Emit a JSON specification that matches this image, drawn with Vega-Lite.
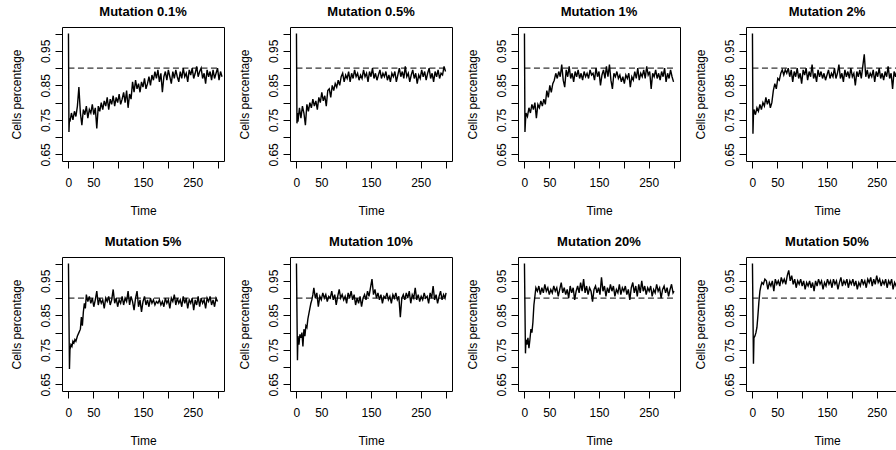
{
"$schema": "https://vega.github.io/schema/vega-lite/v6.json",
"bounds": "flush",
"columns": 4,
"spacing": {"row": 96, "column": 66},
"padding": {"left": 9, "top": 5, "right": 0, "bottom": 0},
"config": {
 "font": "Liberation Sans",
 "view": {"stroke": "black", "strokeWidth": 1},
 "title": {"fontSize": 13, "fontWeight": "bold", "font": "Liberation Sans", "color": "black", "offset": 8, "anchor": "middle"},
 "axis": {"domain": false, "grid": false, "ticks": true, "tickColor": "black", "tickSize": 7, "labelFont": "Liberation Sans", "labelFontSize": 12, "labelColor": "black", "titleFont": "Liberation Sans", "titleFontSize": 12, "titleFontWeight": "normal", "titleColor": "black", "labelOverlap": false, "labelFlush": false},
 "axisX": {"labelPadding": 9, "titlePadding": 17, "labelOverlap": false},
 "axisY": {"labelAngle": -90, "labelAlign": "center", "labelBaseline": "bottom", "labelPadding": 3, "titlePadding": 16}
},
"datasets": {
"a": [{"t":0,"v":1},{"t":1,"v":0.715},{"t":2,"v":0.755},{"t":3,"v":0.745},{"t":6,"v":0.77},{"t":9,"v":0.75},{"t":12,"v":0.775},{"t":15,"v":0.76},{"t":18,"v":0.79},{"t":21,"v":0.845},{"t":24,"v":0.77},{"t":27,"v":0.735},{"t":30,"v":0.78},{"t":33,"v":0.765},{"t":36,"v":0.79},{"t":39,"v":0.755},{"t":42,"v":0.78},{"t":45,"v":0.77},{"t":48,"v":0.795},{"t":51,"v":0.765},{"t":54,"v":0.785},{"t":57,"v":0.725},{"t":60,"v":0.79},{"t":63,"v":0.775},{"t":66,"v":0.8},{"t":69,"v":0.78},{"t":72,"v":0.805},{"t":75,"v":0.79},{"t":78,"v":0.815},{"t":81,"v":0.78},{"t":84,"v":0.81},{"t":87,"v":0.795},{"t":90,"v":0.82},{"t":93,"v":0.79},{"t":96,"v":0.815},{"t":99,"v":0.8},{"t":102,"v":0.825},{"t":105,"v":0.795},{"t":108,"v":0.81},{"t":111,"v":0.83},{"t":114,"v":0.8},{"t":117,"v":0.835},{"t":120,"v":0.785},{"t":123,"v":0.825},{"t":126,"v":0.81},{"t":129,"v":0.86},{"t":132,"v":0.83},{"t":135,"v":0.865},{"t":138,"v":0.84},{"t":141,"v":0.855},{"t":144,"v":0.83},{"t":147,"v":0.86},{"t":150,"v":0.845},{"t":153,"v":0.87},{"t":156,"v":0.84},{"t":159,"v":0.855},{"t":162,"v":0.875},{"t":165,"v":0.85},{"t":168,"v":0.88},{"t":171,"v":0.865},{"t":174,"v":0.89},{"t":177,"v":0.87},{"t":180,"v":0.895},{"t":183,"v":0.86},{"t":186,"v":0.885},{"t":189,"v":0.83},{"t":192,"v":0.875},{"t":195,"v":0.89},{"t":198,"v":0.865},{"t":201,"v":0.895},{"t":204,"v":0.875},{"t":207,"v":0.855},{"t":210,"v":0.89},{"t":213,"v":0.87},{"t":216,"v":0.895},{"t":219,"v":0.875},{"t":222,"v":0.86},{"t":225,"v":0.89},{"t":228,"v":0.87},{"t":231,"v":0.9},{"t":234,"v":0.875},{"t":237,"v":0.885},{"t":240,"v":0.86},{"t":243,"v":0.895},{"t":246,"v":0.88},{"t":249,"v":0.9},{"t":252,"v":0.87},{"t":255,"v":0.885},{"t":258,"v":0.905},{"t":261,"v":0.875},{"t":264,"v":0.89},{"t":267,"v":0.9},{"t":270,"v":0.87},{"t":273,"v":0.885},{"t":276,"v":0.855},{"t":279,"v":0.895},{"t":282,"v":0.875},{"t":285,"v":0.89},{"t":288,"v":0.865},{"t":291,"v":0.895},{"t":294,"v":0.87},{"t":297,"v":0.885},{"t":300,"v":0.9},{"t":303,"v":0.865},{"t":306,"v":0.89},{"t":309,"v":0.875}],
"b": [{"t":0,"v":1},{"t":1,"v":0.74},{"t":2,"v":0.77},{"t":3,"v":0.745},{"t":6,"v":0.785},{"t":9,"v":0.755},{"t":12,"v":0.79},{"t":15,"v":0.77},{"t":18,"v":0.735},{"t":21,"v":0.795},{"t":24,"v":0.775},{"t":27,"v":0.8},{"t":30,"v":0.785},{"t":33,"v":0.81},{"t":36,"v":0.79},{"t":39,"v":0.805},{"t":42,"v":0.78},{"t":45,"v":0.815},{"t":48,"v":0.8},{"t":51,"v":0.83},{"t":54,"v":0.805},{"t":57,"v":0.82},{"t":60,"v":0.79},{"t":63,"v":0.835},{"t":66,"v":0.84},{"t":69,"v":0.815},{"t":72,"v":0.85},{"t":75,"v":0.835},{"t":78,"v":0.855},{"t":81,"v":0.845},{"t":84,"v":0.865},{"t":87,"v":0.85},{"t":90,"v":0.875},{"t":93,"v":0.885},{"t":96,"v":0.86},{"t":99,"v":0.88},{"t":102,"v":0.87},{"t":105,"v":0.89},{"t":108,"v":0.86},{"t":111,"v":0.885},{"t":114,"v":0.87},{"t":117,"v":0.895},{"t":120,"v":0.875},{"t":123,"v":0.885},{"t":126,"v":0.865},{"t":129,"v":0.88},{"t":132,"v":0.87},{"t":135,"v":0.895},{"t":138,"v":0.875},{"t":141,"v":0.885},{"t":144,"v":0.86},{"t":147,"v":0.89},{"t":150,"v":0.875},{"t":153,"v":0.9},{"t":156,"v":0.87},{"t":159,"v":0.885},{"t":162,"v":0.865},{"t":165,"v":0.88},{"t":168,"v":0.895},{"t":171,"v":0.87},{"t":174,"v":0.885},{"t":177,"v":0.875},{"t":180,"v":0.89},{"t":183,"v":0.865},{"t":186,"v":0.88},{"t":189,"v":0.86},{"t":192,"v":0.885},{"t":195,"v":0.875},{"t":198,"v":0.89},{"t":201,"v":0.86},{"t":204,"v":0.88},{"t":207,"v":0.9},{"t":210,"v":0.875},{"t":213,"v":0.89},{"t":216,"v":0.87},{"t":219,"v":0.905},{"t":222,"v":0.875},{"t":225,"v":0.885},{"t":228,"v":0.86},{"t":231,"v":0.88},{"t":234,"v":0.895},{"t":237,"v":0.87},{"t":240,"v":0.885},{"t":243,"v":0.855},{"t":246,"v":0.88},{"t":249,"v":0.87},{"t":252,"v":0.895},{"t":255,"v":0.875},{"t":258,"v":0.89},{"t":261,"v":0.865},{"t":264,"v":0.885},{"t":267,"v":0.9},{"t":270,"v":0.87},{"t":273,"v":0.885},{"t":276,"v":0.86},{"t":279,"v":0.89},{"t":282,"v":0.875},{"t":285,"v":0.895},{"t":288,"v":0.87},{"t":291,"v":0.885},{"t":294,"v":0.88},{"t":297,"v":0.905},{"t":300,"v":0.89}],
"c": [{"t":0,"v":1},{"t":1,"v":0.715},{"t":2,"v":0.745},{"t":3,"v":0.77},{"t":6,"v":0.76},{"t":9,"v":0.785},{"t":12,"v":0.77},{"t":15,"v":0.795},{"t":18,"v":0.78},{"t":21,"v":0.8},{"t":24,"v":0.755},{"t":27,"v":0.795},{"t":30,"v":0.785},{"t":33,"v":0.805},{"t":36,"v":0.79},{"t":39,"v":0.81},{"t":42,"v":0.795},{"t":45,"v":0.835},{"t":48,"v":0.815},{"t":51,"v":0.85},{"t":54,"v":0.83},{"t":57,"v":0.855},{"t":60,"v":0.865},{"t":63,"v":0.885},{"t":66,"v":0.87},{"t":69,"v":0.89},{"t":72,"v":0.875},{"t":75,"v":0.91},{"t":78,"v":0.865},{"t":81,"v":0.845},{"t":84,"v":0.895},{"t":87,"v":0.875},{"t":90,"v":0.905},{"t":93,"v":0.87},{"t":96,"v":0.885},{"t":99,"v":0.86},{"t":102,"v":0.89},{"t":105,"v":0.875},{"t":108,"v":0.895},{"t":111,"v":0.87},{"t":114,"v":0.885},{"t":117,"v":0.865},{"t":120,"v":0.89},{"t":123,"v":0.875},{"t":126,"v":0.885},{"t":129,"v":0.87},{"t":132,"v":0.895},{"t":135,"v":0.88},{"t":138,"v":0.885},{"t":141,"v":0.865},{"t":144,"v":0.9},{"t":147,"v":0.875},{"t":150,"v":0.89},{"t":153,"v":0.85},{"t":156,"v":0.88},{"t":159,"v":0.895},{"t":162,"v":0.87},{"t":165,"v":0.905},{"t":168,"v":0.875},{"t":171,"v":0.91},{"t":174,"v":0.865},{"t":177,"v":0.84},{"t":180,"v":0.885},{"t":183,"v":0.875},{"t":186,"v":0.89},{"t":189,"v":0.87},{"t":192,"v":0.88},{"t":195,"v":0.86},{"t":198,"v":0.875},{"t":201,"v":0.855},{"t":204,"v":0.88},{"t":207,"v":0.87},{"t":210,"v":0.885},{"t":213,"v":0.845},{"t":216,"v":0.875},{"t":219,"v":0.865},{"t":222,"v":0.89},{"t":225,"v":0.87},{"t":228,"v":0.9},{"t":231,"v":0.865},{"t":234,"v":0.885},{"t":237,"v":0.875},{"t":240,"v":0.895},{"t":243,"v":0.87},{"t":246,"v":0.905},{"t":249,"v":0.88},{"t":252,"v":0.89},{"t":255,"v":0.84},{"t":258,"v":0.885},{"t":261,"v":0.875},{"t":264,"v":0.895},{"t":267,"v":0.87},{"t":270,"v":0.885},{"t":273,"v":0.865},{"t":276,"v":0.89},{"t":279,"v":0.875},{"t":282,"v":0.9},{"t":285,"v":0.86},{"t":288,"v":0.885},{"t":291,"v":0.87},{"t":294,"v":0.895},{"t":297,"v":0.875},{"t":300,"v":0.86}],
"d": [{"t":0,"v":1},{"t":1,"v":0.71},{"t":2,"v":0.765},{"t":3,"v":0.78},{"t":6,"v":0.765},{"t":9,"v":0.785},{"t":12,"v":0.775},{"t":15,"v":0.795},{"t":18,"v":0.78},{"t":21,"v":0.8},{"t":24,"v":0.79},{"t":27,"v":0.815},{"t":30,"v":0.795},{"t":33,"v":0.81},{"t":36,"v":0.785},{"t":39,"v":0.8},{"t":42,"v":0.835},{"t":45,"v":0.855},{"t":48,"v":0.84},{"t":51,"v":0.87},{"t":54,"v":0.865},{"t":57,"v":0.885},{"t":60,"v":0.895},{"t":63,"v":0.88},{"t":66,"v":0.895},{"t":69,"v":0.885},{"t":72,"v":0.9},{"t":75,"v":0.875},{"t":78,"v":0.895},{"t":81,"v":0.86},{"t":84,"v":0.89},{"t":87,"v":0.875},{"t":90,"v":0.9},{"t":93,"v":0.87},{"t":96,"v":0.885},{"t":99,"v":0.855},{"t":102,"v":0.895},{"t":105,"v":0.88},{"t":108,"v":0.9},{"t":111,"v":0.865},{"t":114,"v":0.89},{"t":117,"v":0.875},{"t":120,"v":0.91},{"t":123,"v":0.87},{"t":126,"v":0.885},{"t":129,"v":0.86},{"t":132,"v":0.895},{"t":135,"v":0.875},{"t":138,"v":0.89},{"t":141,"v":0.87},{"t":144,"v":0.885},{"t":147,"v":0.865},{"t":150,"v":0.88},{"t":153,"v":0.895},{"t":156,"v":0.87},{"t":159,"v":0.885},{"t":162,"v":0.875},{"t":165,"v":0.9},{"t":168,"v":0.87},{"t":171,"v":0.885},{"t":174,"v":0.91},{"t":177,"v":0.87},{"t":180,"v":0.885},{"t":183,"v":0.86},{"t":186,"v":0.895},{"t":189,"v":0.875},{"t":192,"v":0.89},{"t":195,"v":0.87},{"t":198,"v":0.9},{"t":201,"v":0.875},{"t":204,"v":0.885},{"t":207,"v":0.85},{"t":210,"v":0.89},{"t":213,"v":0.875},{"t":216,"v":0.895},{"t":219,"v":0.87},{"t":222,"v":0.905},{"t":225,"v":0.94},{"t":228,"v":0.875},{"t":231,"v":0.895},{"t":234,"v":0.87},{"t":237,"v":0.885},{"t":240,"v":0.875},{"t":243,"v":0.895},{"t":246,"v":0.86},{"t":249,"v":0.89},{"t":252,"v":0.875},{"t":255,"v":0.9},{"t":258,"v":0.87},{"t":261,"v":0.885},{"t":264,"v":0.865},{"t":267,"v":0.89},{"t":270,"v":0.875},{"t":273,"v":0.905},{"t":276,"v":0.87},{"t":279,"v":0.885},{"t":282,"v":0.84},{"t":285,"v":0.89},{"t":288,"v":0.875},{"t":291,"v":0.895},{"t":294,"v":0.87},{"t":297,"v":0.885},{"t":300,"v":0.88}],
"e": [{"t":0,"v":1},{"t":1,"v":0.845},{"t":2,"v":0.695},{"t":3,"v":0.75},{"t":5,"v":0.765},{"t":7,"v":0.76},{"t":9,"v":0.775},{"t":11,"v":0.77},{"t":13,"v":0.78},{"t":15,"v":0.775},{"t":18,"v":0.79},{"t":21,"v":0.8},{"t":24,"v":0.81},{"t":26,"v":0.845},{"t":28,"v":0.82},{"t":30,"v":0.86},{"t":32,"v":0.885},{"t":34,"v":0.87},{"t":36,"v":0.91},{"t":39,"v":0.89},{"t":42,"v":0.905},{"t":45,"v":0.885},{"t":48,"v":0.9},{"t":51,"v":0.875},{"t":54,"v":0.895},{"t":57,"v":0.92},{"t":60,"v":0.88},{"t":63,"v":0.9},{"t":66,"v":0.885},{"t":69,"v":0.895},{"t":72,"v":0.87},{"t":75,"v":0.9},{"t":78,"v":0.89},{"t":81,"v":0.905},{"t":84,"v":0.88},{"t":87,"v":0.895},{"t":90,"v":0.925},{"t":93,"v":0.885},{"t":96,"v":0.9},{"t":99,"v":0.875},{"t":102,"v":0.895},{"t":105,"v":0.885},{"t":108,"v":0.905},{"t":111,"v":0.88},{"t":114,"v":0.9},{"t":117,"v":0.89},{"t":120,"v":0.92},{"t":123,"v":0.88},{"t":126,"v":0.905},{"t":129,"v":0.89},{"t":132,"v":0.865},{"t":135,"v":0.9},{"t":138,"v":0.92},{"t":141,"v":0.875},{"t":144,"v":0.895},{"t":147,"v":0.86},{"t":150,"v":0.89},{"t":153,"v":0.905},{"t":156,"v":0.88},{"t":159,"v":0.895},{"t":162,"v":0.875},{"t":165,"v":0.9},{"t":168,"v":0.885},{"t":171,"v":0.895},{"t":174,"v":0.88},{"t":177,"v":0.89},{"t":180,"v":0.885},{"t":183,"v":0.895},{"t":186,"v":0.88},{"t":189,"v":0.89},{"t":192,"v":0.875},{"t":195,"v":0.9},{"t":198,"v":0.885},{"t":201,"v":0.895},{"t":204,"v":0.87},{"t":207,"v":0.9},{"t":210,"v":0.89},{"t":213,"v":0.91},{"t":216,"v":0.88},{"t":219,"v":0.9},{"t":222,"v":0.885},{"t":225,"v":0.895},{"t":228,"v":0.875},{"t":231,"v":0.905},{"t":234,"v":0.885},{"t":237,"v":0.9},{"t":240,"v":0.87},{"t":243,"v":0.895},{"t":246,"v":0.885},{"t":249,"v":0.9},{"t":252,"v":0.865},{"t":255,"v":0.895},{"t":258,"v":0.88},{"t":261,"v":0.905},{"t":264,"v":0.875},{"t":267,"v":0.9},{"t":270,"v":0.885},{"t":273,"v":0.895},{"t":276,"v":0.87},{"t":279,"v":0.9},{"t":282,"v":0.89},{"t":285,"v":0.905},{"t":288,"v":0.88},{"t":291,"v":0.895},{"t":294,"v":0.875},{"t":297,"v":0.9},{"t":300,"v":0.89}],
"f": [{"t":0,"v":1},{"t":1,"v":0.86},{"t":2,"v":0.72},{"t":3,"v":0.79},{"t":5,"v":0.765},{"t":7,"v":0.795},{"t":9,"v":0.785},{"t":11,"v":0.8},{"t":13,"v":0.76},{"t":15,"v":0.81},{"t":17,"v":0.79},{"t":19,"v":0.82},{"t":21,"v":0.815},{"t":23,"v":0.84},{"t":25,"v":0.855},{"t":27,"v":0.87},{"t":29,"v":0.885},{"t":31,"v":0.895},{"t":33,"v":0.91},{"t":35,"v":0.93},{"t":38,"v":0.9},{"t":41,"v":0.915},{"t":44,"v":0.875},{"t":47,"v":0.905},{"t":50,"v":0.895},{"t":53,"v":0.915},{"t":56,"v":0.9},{"t":59,"v":0.91},{"t":62,"v":0.89},{"t":65,"v":0.905},{"t":68,"v":0.9},{"t":71,"v":0.92},{"t":74,"v":0.895},{"t":77,"v":0.91},{"t":80,"v":0.88},{"t":83,"v":0.905},{"t":86,"v":0.925},{"t":89,"v":0.9},{"t":92,"v":0.91},{"t":95,"v":0.895},{"t":98,"v":0.905},{"t":101,"v":0.885},{"t":104,"v":0.915},{"t":107,"v":0.9},{"t":110,"v":0.92},{"t":113,"v":0.895},{"t":116,"v":0.91},{"t":119,"v":0.88},{"t":122,"v":0.9},{"t":125,"v":0.885},{"t":128,"v":0.905},{"t":131,"v":0.875},{"t":134,"v":0.9},{"t":137,"v":0.91},{"t":140,"v":0.895},{"t":143,"v":0.92},{"t":146,"v":0.905},{"t":149,"v":0.93},{"t":152,"v":0.955},{"t":155,"v":0.91},{"t":158,"v":0.925},{"t":161,"v":0.9},{"t":164,"v":0.915},{"t":167,"v":0.895},{"t":170,"v":0.91},{"t":173,"v":0.885},{"t":176,"v":0.905},{"t":179,"v":0.9},{"t":182,"v":0.915},{"t":185,"v":0.895},{"t":188,"v":0.905},{"t":191,"v":0.885},{"t":194,"v":0.91},{"t":197,"v":0.9},{"t":200,"v":0.915},{"t":203,"v":0.895},{"t":206,"v":0.905},{"t":209,"v":0.845},{"t":212,"v":0.9},{"t":215,"v":0.91},{"t":218,"v":0.895},{"t":221,"v":0.915},{"t":224,"v":0.9},{"t":227,"v":0.92},{"t":230,"v":0.885},{"t":233,"v":0.91},{"t":236,"v":0.9},{"t":239,"v":0.93},{"t":242,"v":0.895},{"t":245,"v":0.91},{"t":248,"v":0.89},{"t":251,"v":0.905},{"t":254,"v":0.895},{"t":257,"v":0.915},{"t":260,"v":0.9},{"t":263,"v":0.905},{"t":266,"v":0.885},{"t":269,"v":0.915},{"t":272,"v":0.9},{"t":275,"v":0.935},{"t":278,"v":0.895},{"t":281,"v":0.91},{"t":284,"v":0.885},{"t":287,"v":0.905},{"t":290,"v":0.92},{"t":293,"v":0.895},{"t":296,"v":0.91},{"t":299,"v":0.9},{"t":301,"v":0.915}],
"g": [{"t":0,"v":1},{"t":1,"v":0.87},{"t":2,"v":0.74},{"t":3,"v":0.78},{"t":5,"v":0.765},{"t":7,"v":0.785},{"t":9,"v":0.755},{"t":11,"v":0.78},{"t":13,"v":0.81},{"t":15,"v":0.8},{"t":17,"v":0.83},{"t":19,"v":0.88},{"t":21,"v":0.905},{"t":23,"v":0.93},{"t":26,"v":0.92},{"t":29,"v":0.935},{"t":32,"v":0.91},{"t":35,"v":0.93},{"t":38,"v":0.915},{"t":41,"v":0.94},{"t":44,"v":0.92},{"t":47,"v":0.93},{"t":50,"v":0.91},{"t":53,"v":0.925},{"t":56,"v":0.915},{"t":59,"v":0.935},{"t":62,"v":0.92},{"t":65,"v":0.93},{"t":68,"v":0.905},{"t":71,"v":0.925},{"t":74,"v":0.945},{"t":77,"v":0.915},{"t":80,"v":0.93},{"t":83,"v":0.91},{"t":86,"v":0.925},{"t":89,"v":0.9},{"t":92,"v":0.935},{"t":95,"v":0.915},{"t":98,"v":0.93},{"t":101,"v":0.895},{"t":104,"v":0.92},{"t":107,"v":0.935},{"t":110,"v":0.915},{"t":113,"v":0.945},{"t":116,"v":0.92},{"t":119,"v":0.955},{"t":122,"v":0.915},{"t":125,"v":0.935},{"t":128,"v":0.91},{"t":131,"v":0.93},{"t":134,"v":0.92},{"t":137,"v":0.89},{"t":140,"v":0.925},{"t":143,"v":0.935},{"t":146,"v":0.915},{"t":149,"v":0.93},{"t":152,"v":0.91},{"t":155,"v":0.96},{"t":158,"v":0.92},{"t":161,"v":0.935},{"t":164,"v":0.905},{"t":167,"v":0.93},{"t":170,"v":0.915},{"t":173,"v":0.94},{"t":176,"v":0.92},{"t":179,"v":0.935},{"t":182,"v":0.905},{"t":185,"v":0.925},{"t":188,"v":0.915},{"t":191,"v":0.94},{"t":194,"v":0.91},{"t":197,"v":0.93},{"t":200,"v":0.92},{"t":203,"v":0.935},{"t":206,"v":0.91},{"t":209,"v":0.925},{"t":212,"v":0.895},{"t":215,"v":0.93},{"t":218,"v":0.945},{"t":221,"v":0.915},{"t":224,"v":0.935},{"t":227,"v":0.905},{"t":230,"v":0.94},{"t":233,"v":0.915},{"t":236,"v":0.95},{"t":239,"v":0.92},{"t":242,"v":0.935},{"t":245,"v":0.91},{"t":248,"v":0.93},{"t":251,"v":0.92},{"t":254,"v":0.935},{"t":257,"v":0.905},{"t":260,"v":0.925},{"t":263,"v":0.915},{"t":266,"v":0.94},{"t":269,"v":0.92},{"t":272,"v":0.93},{"t":275,"v":0.9},{"t":278,"v":0.925},{"t":281,"v":0.935},{"t":284,"v":0.915},{"t":287,"v":0.93},{"t":290,"v":0.905},{"t":293,"v":0.925},{"t":296,"v":0.94},{"t":299,"v":0.915},{"t":301,"v":0.92}],
"h": [{"t":0,"v":1},{"t":1,"v":0.86},{"t":2,"v":0.71},{"t":3,"v":0.785},{"t":5,"v":0.79},{"t":7,"v":0.8},{"t":9,"v":0.815},{"t":11,"v":0.85},{"t":13,"v":0.89},{"t":15,"v":0.92},{"t":17,"v":0.935},{"t":19,"v":0.945},{"t":22,"v":0.94},{"t":25,"v":0.955},{"t":28,"v":0.95},{"t":31,"v":0.925},{"t":34,"v":0.945},{"t":37,"v":0.935},{"t":40,"v":0.95},{"t":43,"v":0.92},{"t":46,"v":0.955},{"t":49,"v":0.94},{"t":52,"v":0.95},{"t":55,"v":0.935},{"t":58,"v":0.96},{"t":61,"v":0.945},{"t":64,"v":0.955},{"t":67,"v":0.94},{"t":70,"v":0.965},{"t":73,"v":0.98},{"t":76,"v":0.95},{"t":79,"v":0.965},{"t":82,"v":0.94},{"t":85,"v":0.955},{"t":88,"v":0.93},{"t":91,"v":0.95},{"t":94,"v":0.94},{"t":97,"v":0.955},{"t":100,"v":0.935},{"t":103,"v":0.95},{"t":106,"v":0.925},{"t":109,"v":0.945},{"t":112,"v":0.935},{"t":115,"v":0.95},{"t":118,"v":0.93},{"t":121,"v":0.945},{"t":124,"v":0.92},{"t":127,"v":0.95},{"t":130,"v":0.935},{"t":133,"v":0.955},{"t":136,"v":0.94},{"t":139,"v":0.95},{"t":142,"v":0.925},{"t":145,"v":0.945},{"t":148,"v":0.935},{"t":151,"v":0.955},{"t":154,"v":0.94},{"t":157,"v":0.95},{"t":160,"v":0.93},{"t":163,"v":0.955},{"t":166,"v":0.94},{"t":169,"v":0.95},{"t":172,"v":0.925},{"t":175,"v":0.945},{"t":178,"v":0.96},{"t":181,"v":0.935},{"t":184,"v":0.95},{"t":187,"v":0.94},{"t":190,"v":0.955},{"t":193,"v":0.93},{"t":196,"v":0.95},{"t":199,"v":0.94},{"t":202,"v":0.955},{"t":205,"v":0.935},{"t":208,"v":0.95},{"t":211,"v":0.925},{"t":214,"v":0.945},{"t":217,"v":0.935},{"t":220,"v":0.955},{"t":223,"v":0.94},{"t":226,"v":0.95},{"t":229,"v":0.93},{"t":232,"v":0.955},{"t":235,"v":0.945},{"t":238,"v":0.96},{"t":241,"v":0.935},{"t":244,"v":0.955},{"t":247,"v":0.94},{"t":250,"v":0.965},{"t":253,"v":0.945},{"t":256,"v":0.955},{"t":259,"v":0.935},{"t":262,"v":0.95},{"t":265,"v":0.94},{"t":268,"v":0.955},{"t":271,"v":0.93},{"t":274,"v":0.95},{"t":277,"v":0.94},{"t":280,"v":0.955},{"t":283,"v":0.925},{"t":286,"v":0.945},{"t":289,"v":0.935},{"t":292,"v":0.955},{"t":295,"v":0.94},{"t":298,"v":0.95},{"t":301,"v":0.945}]
},
"concat": [
{"title": "Mutation 0.1%", "width": 162, "height": 134, "layer": [
 {"data": {"name": "a"}, "mark": {"type": "line", "color": "black", "strokeWidth": 1.4}, "encoding": {
  "x": {"field": "t", "type": "quantitative", "scale": {"domain": [-13, 313], "nice": false, "zero": false}, "axis": {"title": "Time", "values": [0,50,100,150,200,250,300], "tickCount": 50, "labelOverlap": false, "labelOpacity": {"condition": {"test": "datum.value == 100 || datum.value == 200 || datum.value == 300", "value": 0}, "value": 1}}},
  "y": {"field": "v", "type": "quantitative", "scale": {"domain": [0.631, 1.019], "nice": false, "zero": false}, "axis": {"title": "Cells percentage", "values": [0.65,0.7,0.75,0.8,0.85,0.9,0.95,1.0], "tickCount": 50, "labelOverlap": false, "labelExpr": "indexof(['0.65','0.75','0.85','0.95'], format(datum.value,'.2f')) >= 0 ? format(datum.value,'.2f') : ''"}}}},
 {"data": {"values": [{}]}, "mark": {"type": "rule", "color": "black", "strokeWidth": 1, "strokeDash": [6, 3.5]}, "encoding": {"x": {"datum": 0, "type": "quantitative"}, "x2": {"datum": 300}, "y": {"datum": 0.9, "type": "quantitative"}}}
]},
{"title": "Mutation 0.5%", "width": 162, "height": 134, "layer": [
 {"data": {"name": "b"}, "mark": {"type": "line", "color": "black", "strokeWidth": 1.4}, "encoding": {
  "x": {"field": "t", "type": "quantitative", "scale": {"domain": [-13, 313], "nice": false, "zero": false}, "axis": {"title": "Time", "values": [0,50,100,150,200,250,300], "tickCount": 50, "labelOverlap": false, "labelOpacity": {"condition": {"test": "datum.value == 100 || datum.value == 200 || datum.value == 300", "value": 0}, "value": 1}}},
  "y": {"field": "v", "type": "quantitative", "scale": {"domain": [0.631, 1.019], "nice": false, "zero": false}, "axis": {"title": "Cells percentage", "values": [0.65,0.7,0.75,0.8,0.85,0.9,0.95,1.0], "tickCount": 50, "labelOverlap": false, "labelExpr": "indexof(['0.65','0.75','0.85','0.95'], format(datum.value,'.2f')) >= 0 ? format(datum.value,'.2f') : ''"}}}},
 {"data": {"values": [{}]}, "mark": {"type": "rule", "color": "black", "strokeWidth": 1, "strokeDash": [6, 3.5]}, "encoding": {"x": {"datum": 0, "type": "quantitative"}, "x2": {"datum": 300}, "y": {"datum": 0.9, "type": "quantitative"}}}
]},
{"title": "Mutation 1%", "width": 162, "height": 134, "layer": [
 {"data": {"name": "c"}, "mark": {"type": "line", "color": "black", "strokeWidth": 1.4}, "encoding": {
  "x": {"field": "t", "type": "quantitative", "scale": {"domain": [-13, 313], "nice": false, "zero": false}, "axis": {"title": "Time", "values": [0,50,100,150,200,250,300], "tickCount": 50, "labelOverlap": false, "labelOpacity": {"condition": {"test": "datum.value == 100 || datum.value == 200 || datum.value == 300", "value": 0}, "value": 1}}},
  "y": {"field": "v", "type": "quantitative", "scale": {"domain": [0.631, 1.019], "nice": false, "zero": false}, "axis": {"title": "Cells percentage", "values": [0.65,0.7,0.75,0.8,0.85,0.9,0.95,1.0], "tickCount": 50, "labelOverlap": false, "labelExpr": "indexof(['0.65','0.75','0.85','0.95'], format(datum.value,'.2f')) >= 0 ? format(datum.value,'.2f') : ''"}}}},
 {"data": {"values": [{}]}, "mark": {"type": "rule", "color": "black", "strokeWidth": 1, "strokeDash": [6, 3.5]}, "encoding": {"x": {"datum": 0, "type": "quantitative"}, "x2": {"datum": 300}, "y": {"datum": 0.9, "type": "quantitative"}}}
]},
{"title": "Mutation 2%", "width": 162, "height": 134, "layer": [
 {"data": {"name": "d"}, "mark": {"type": "line", "color": "black", "strokeWidth": 1.4}, "encoding": {
  "x": {"field": "t", "type": "quantitative", "scale": {"domain": [-13, 313], "nice": false, "zero": false}, "axis": {"title": "Time", "values": [0,50,100,150,200,250,300], "tickCount": 50, "labelOverlap": false, "labelOpacity": {"condition": {"test": "datum.value == 100 || datum.value == 200 || datum.value == 300", "value": 0}, "value": 1}}},
  "y": {"field": "v", "type": "quantitative", "scale": {"domain": [0.631, 1.019], "nice": false, "zero": false}, "axis": {"title": "Cells percentage", "values": [0.65,0.7,0.75,0.8,0.85,0.9,0.95,1.0], "tickCount": 50, "labelOverlap": false, "labelExpr": "indexof(['0.65','0.75','0.85','0.95'], format(datum.value,'.2f')) >= 0 ? format(datum.value,'.2f') : ''"}}}},
 {"data": {"values": [{}]}, "mark": {"type": "rule", "color": "black", "strokeWidth": 1, "strokeDash": [6, 3.5]}, "encoding": {"x": {"datum": 0, "type": "quantitative"}, "x2": {"datum": 300}, "y": {"datum": 0.9, "type": "quantitative"}}}
]},
{"title": "Mutation 5%", "width": 162, "height": 134, "layer": [
 {"data": {"name": "e"}, "mark": {"type": "line", "color": "black", "strokeWidth": 1.4}, "encoding": {
  "x": {"field": "t", "type": "quantitative", "scale": {"domain": [-13, 313], "nice": false, "zero": false}, "axis": {"title": "Time", "values": [0,50,100,150,200,250,300], "tickCount": 50, "labelOverlap": false, "labelOpacity": {"condition": {"test": "datum.value == 100 || datum.value == 200 || datum.value == 300", "value": 0}, "value": 1}}},
  "y": {"field": "v", "type": "quantitative", "scale": {"domain": [0.631, 1.019], "nice": false, "zero": false}, "axis": {"title": "Cells percentage", "values": [0.65,0.7,0.75,0.8,0.85,0.9,0.95,1.0], "tickCount": 50, "labelOverlap": false, "labelExpr": "indexof(['0.65','0.75','0.85','0.95'], format(datum.value,'.2f')) >= 0 ? format(datum.value,'.2f') : ''"}}}},
 {"data": {"values": [{}]}, "mark": {"type": "rule", "color": "black", "strokeWidth": 1, "strokeDash": [6, 3.5]}, "encoding": {"x": {"datum": 0, "type": "quantitative"}, "x2": {"datum": 300}, "y": {"datum": 0.9, "type": "quantitative"}}}
]},
{"title": "Mutation 10%", "width": 162, "height": 134, "layer": [
 {"data": {"name": "f"}, "mark": {"type": "line", "color": "black", "strokeWidth": 1.4}, "encoding": {
  "x": {"field": "t", "type": "quantitative", "scale": {"domain": [-13, 313], "nice": false, "zero": false}, "axis": {"title": "Time", "values": [0,50,100,150,200,250,300], "tickCount": 50, "labelOverlap": false, "labelOpacity": {"condition": {"test": "datum.value == 100 || datum.value == 200 || datum.value == 300", "value": 0}, "value": 1}}},
  "y": {"field": "v", "type": "quantitative", "scale": {"domain": [0.631, 1.019], "nice": false, "zero": false}, "axis": {"title": "Cells percentage", "values": [0.65,0.7,0.75,0.8,0.85,0.9,0.95,1.0], "tickCount": 50, "labelOverlap": false, "labelExpr": "indexof(['0.65','0.75','0.85','0.95'], format(datum.value,'.2f')) >= 0 ? format(datum.value,'.2f') : ''"}}}},
 {"data": {"values": [{}]}, "mark": {"type": "rule", "color": "black", "strokeWidth": 1, "strokeDash": [6, 3.5]}, "encoding": {"x": {"datum": 0, "type": "quantitative"}, "x2": {"datum": 300}, "y": {"datum": 0.9, "type": "quantitative"}}}
]},
{"title": "Mutation 20%", "width": 162, "height": 134, "layer": [
 {"data": {"name": "g"}, "mark": {"type": "line", "color": "black", "strokeWidth": 1.4}, "encoding": {
  "x": {"field": "t", "type": "quantitative", "scale": {"domain": [-13, 313], "nice": false, "zero": false}, "axis": {"title": "Time", "values": [0,50,100,150,200,250,300], "tickCount": 50, "labelOverlap": false, "labelOpacity": {"condition": {"test": "datum.value == 100 || datum.value == 200 || datum.value == 300", "value": 0}, "value": 1}}},
  "y": {"field": "v", "type": "quantitative", "scale": {"domain": [0.631, 1.019], "nice": false, "zero": false}, "axis": {"title": "Cells percentage", "values": [0.65,0.7,0.75,0.8,0.85,0.9,0.95,1.0], "tickCount": 50, "labelOverlap": false, "labelExpr": "indexof(['0.65','0.75','0.85','0.95'], format(datum.value,'.2f')) >= 0 ? format(datum.value,'.2f') : ''"}}}},
 {"data": {"values": [{}]}, "mark": {"type": "rule", "color": "black", "strokeWidth": 1, "strokeDash": [6, 3.5]}, "encoding": {"x": {"datum": 0, "type": "quantitative"}, "x2": {"datum": 300}, "y": {"datum": 0.9, "type": "quantitative"}}}
]},
{"title": "Mutation 50%", "width": 162, "height": 134, "layer": [
 {"data": {"name": "h"}, "mark": {"type": "line", "color": "black", "strokeWidth": 1.4}, "encoding": {
  "x": {"field": "t", "type": "quantitative", "scale": {"domain": [-13, 313], "nice": false, "zero": false}, "axis": {"title": "Time", "values": [0,50,100,150,200,250,300], "tickCount": 50, "labelOverlap": false, "labelOpacity": {"condition": {"test": "datum.value == 100 || datum.value == 200 || datum.value == 300", "value": 0}, "value": 1}}},
  "y": {"field": "v", "type": "quantitative", "scale": {"domain": [0.631, 1.019], "nice": false, "zero": false}, "axis": {"title": "Cells percentage", "values": [0.65,0.7,0.75,0.8,0.85,0.9,0.95,1.0], "tickCount": 50, "labelOverlap": false, "labelExpr": "indexof(['0.65','0.75','0.85','0.95'], format(datum.value,'.2f')) >= 0 ? format(datum.value,'.2f') : ''"}}}},
 {"data": {"values": [{}]}, "mark": {"type": "rule", "color": "black", "strokeWidth": 1, "strokeDash": [6, 3.5]}, "encoding": {"x": {"datum": 0, "type": "quantitative"}, "x2": {"datum": 300}, "y": {"datum": 0.9, "type": "quantitative"}}}
]}
]
}
